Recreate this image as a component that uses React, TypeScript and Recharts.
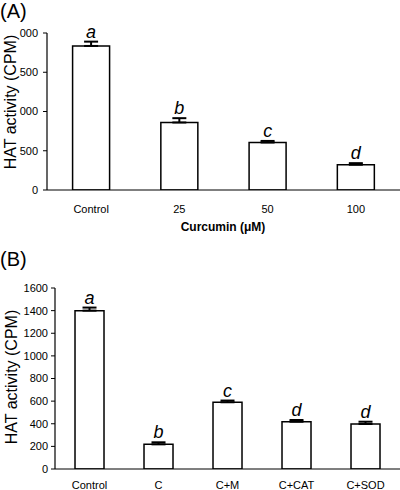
import { ComposedChart, Bar, Line, XAxis, YAxis, ErrorBar, LabelList } from "recharts"

const FONT = "'Liberation Sans', Arial, Helvetica, sans-serif"

// panel A: curcumin dose
const catsA = ["Control", "25", "50", "100"]
const valsA = [1835, 860, 605, 322]
const errsA = [55, 55, 20, 20]
const lettersA = ["a", "b", "c", "d"]
const ticksA = [0, 500, 1000, 1500, 2000]

// panel B: curcumin + scavengers
const catsB = ["Control", "C", "C+M", "C+CAT", "C+SOD"]
const valsB = [1400, 218, 590, 418, 398]
const errsB = [27, 18, 15, 15, 20]
const lettersB = ["a", "b", "c", "d", "d"]
const ticksB = [0, 200, 400, 600, 800, 1000, 1200, 1400, 1600]

function buildRows(cats: string[], vals: number[], errs: number[], letters: string[]) {
  return cats.map((name, i) => ({
    name,
    value: vals[i],
    err: [0, errs[i]],
    top: vals[i] + errs[i],
    letter: letters[i],
  }))
}

const rowsA = buildRows(catsA, valsA, errsA, lettersA)
const rowsB = buildRows(catsB, valsB, errsB, lettersB)

// the scanned figure has the thousands digit cut off on panel A
const cropped = (v: number) => (v >= 1000 ? String(v).slice(1) : String(v))

type PanelProps = {
  rows: ReturnType<typeof buildRows>
  ticks: number[]
  max: number
  height: number
  marginTop: number
  yWidth: number
  labelHeight: number
  labelMargin: number
  yTickMargin: number
  formatY?: (v: number) => string
}

function Panel({ rows, ticks, max, height, marginTop, yWidth, labelHeight, labelMargin, yTickMargin, formatY }: PanelProps) {
  const n = rows.length
  const bounds = rows.map((_, i) => i + 1)
  return (
    <ComposedChart
      width={400}
      height={height}
      data={rows}
      margin={{ top: marginTop, right: 0, bottom: 0, left: 0 }}
      barCategoryGap="29%"
    >
      {/* axis line with ticks between the categories */}
      <XAxis
        xAxisId="a-base"
        type="number"
        domain={[0, n]}
        allowDataOverflow
        ticks={bounds}
        height={1}
        tick={false}
        tickSize={4}
        axisLine={{ stroke: "#000", strokeWidth: 1.2 }}
        tickLine={{ stroke: "#000", strokeWidth: 1 }}
      />
      <XAxis
        xAxisId="b-names"
        dataKey="name"
        height={labelHeight}
        axisLine={false}
        tickLine={false}
        tickMargin={labelMargin}
        interval={0}
        tick={{ fontSize: 11, fill: "#000", fontFamily: FONT }}
      />
      <YAxis
        width={yWidth}
        domain={[0, max]}
        ticks={ticks}
        allowDataOverflow
        tickFormatter={formatY}
        tickSize={4}
        tickMargin={yTickMargin}
        axisLine={{ stroke: "#000", strokeWidth: 1.2 }}
        tickLine={{ stroke: "#000", strokeWidth: 1 }}
        tick={{ fontSize: 11, fill: "#000", fontFamily: FONT }}
      />
      <Bar xAxisId="b-names" dataKey="value" fill="#fff" stroke="#000" strokeWidth={1.5} isAnimationActive={false}>
        <ErrorBar dataKey="err" direction="y" width={7} stroke="#000" strokeWidth={2} />
      </Bar>
      <Line
        xAxisId="b-names"
        dataKey="top"
        stroke="none"
        dot={false}
        activeDot={false}
        isAnimationActive={false}
      >
        <LabelList
          dataKey="letter"
          position="top"
          offset={4}
          fill="#000"
          fontSize={18}
          fontStyle="italic"
          fontFamily={FONT}
        />
      </Line>
    </ComposedChart>
  )
}

export default function App() {
  return (
    <div style={{ position: "absolute", left: 0, top: 0, width: 400, height: 490, background: "#fff", fontFamily: FONT }}>
      <div style={{ position: "absolute", left: 0, top: 0 }}>
        <Panel
          rows={rowsA}
          ticks={ticksA}
          max={2000}
          height={240}
          marginTop={33}
          yWidth={47}
          labelHeight={49}
          labelMargin={8}
          yTickMargin={5}
          formatY={cropped}
        />
      </div>
      <div style={{ position: "absolute", left: 0, top: 250 }}>
        <Panel
          rows={rowsB}
          ticks={ticksB}
          max={1600}
          height={240}
          marginTop={38}
          yWidth={55}
          labelHeight={20}
          labelMargin={5}
          yTickMargin={3}
        />
      </div>
      <svg width={400} height={490} style={{ position: "absolute", left: 0, top: 0, pointerEvents: "none" }}>
        <text x={0} y={18} fontSize={20} fontFamily={FONT} fill="#000">(A)</text>
        <text x={0} y={266} fontSize={20} fontFamily={FONT} fill="#000">(B)</text>
        <text
          x={10}
          y={102}
          transform="rotate(-90 10 102)"
          textAnchor="middle"
          dominantBaseline="central"
          fontSize={16}
          fontFamily={FONT}
          fill="#000"
        >
          HAT activity (CPM)
        </text>
        <text
          x={11}
          y={377}
          transform="rotate(-90 11 377)"
          textAnchor="middle"
          dominantBaseline="central"
          fontSize={16}
          fontFamily={FONT}
          fill="#000"
        >
          HAT activity (CPM)
        </text>
        <text x={223} y={231} textAnchor="middle" fontSize={12} fontWeight="bold" fontFamily={FONT} fill="#000">
          Curcumin (μM)
        </text>
      </svg>
    </div>
  )
}
